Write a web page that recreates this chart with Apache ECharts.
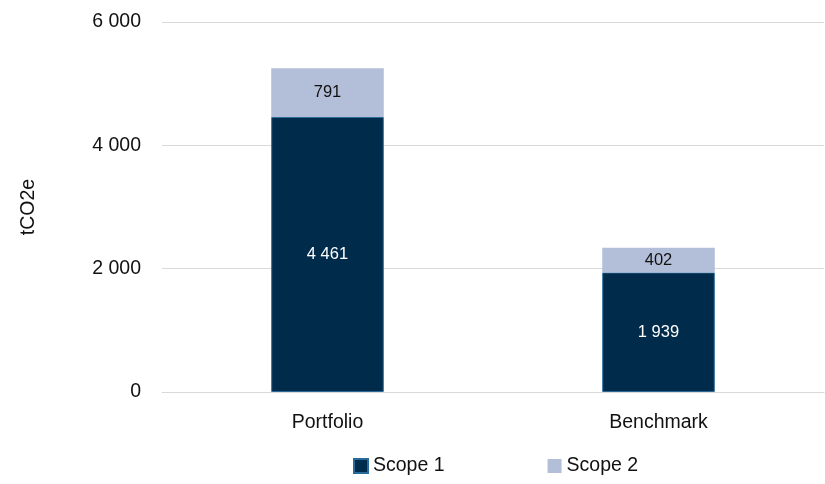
<!DOCTYPE html>
<html><head><meta charset="utf-8">
<script src="https://cdn.jsdelivr.net/npm/echarts@6/dist/echarts.min.js"></script>
<style>html,body{margin:0;padding:0;background:#fff}#c{width:825px;height:484px}</style>
</head><body><div id="c"></div>
<script>
const categories = ['Portfolio', 'Benchmark'];
const scope1 = [4461, 1939];
const scope2 = [791, 402];
const yTicks = [0, 2000, 4000, 6000];

function fmt(v){ return String(v).replace(/\B(?=(\d{3})+(?!\d))/g, ' '); }
const FONT = '"Liberation Sans", Arial, sans-serif';
const chart = echarts.init(document.getElementById('c'));
chart.setOption({
  animation: false,
  textStyle: { fontFamily: FONT },
  grid: { left: 162, right: 1, top: 22, bottom: 92, containLabel: false },
  legend: {
    bottom: 3, left: 348, itemWidth: 14, itemHeight: 14, itemGap: 103,
    icon: 'rect',
    textStyle: { fontFamily: FONT, fontSize: 19.5, color: '#111' },
    data: ['Scope 1', 'Scope 2']
  },
  xAxis: {
    type: 'category', data: categories,
    axisLine: { lineStyle: { color: '#d9d9d9', width: 1 } },
    axisTick: { show: false },
    axisLabel: { fontFamily: FONT, fontSize: 19.5, color: '#111', margin: 21 }
  },
  yAxis: {
    type: 'value', min: yTicks[0], max: yTicks[yTicks.length-1], interval: 2000,
    name: 'tCO2e', nameLocation: 'middle', nameGap: 123, nameRotate: 90,
    nameTextStyle: { fontFamily: FONT, fontSize: 19.5, color: '#111' },
    axisLine: { show: false }, axisTick: { show: false },
    splitLine: { lineStyle: { color: '#d9d9d9', width: 1 } },
    axisLabel: { fontFamily: FONT, fontSize: 19.5, color: '#111', margin: 21, formatter: fmt }
  },
  series: [
    { name: 'Scope 1', type: 'bar', stack: 'a', data: scope1, barWidth: '34%',
      itemStyle: { color: '#002b4b', borderColor: '#2a6a9a', borderWidth: 1 },
      label: { show: true, position: 'inside', color: '#fff', fontSize: 16.5, fontFamily: FONT, formatter: p => fmt(p.value) } },
    { name: 'Scope 2', type: 'bar', stack: 'a', data: scope2, barWidth: '34%',
      itemStyle: { color: '#b3bfd8' },
      label: { show: true, position: 'inside', color: '#111', fontSize: 16.5, fontFamily: FONT, formatter: p => fmt(p.value) } }
  ]
});
</script></body></html>
